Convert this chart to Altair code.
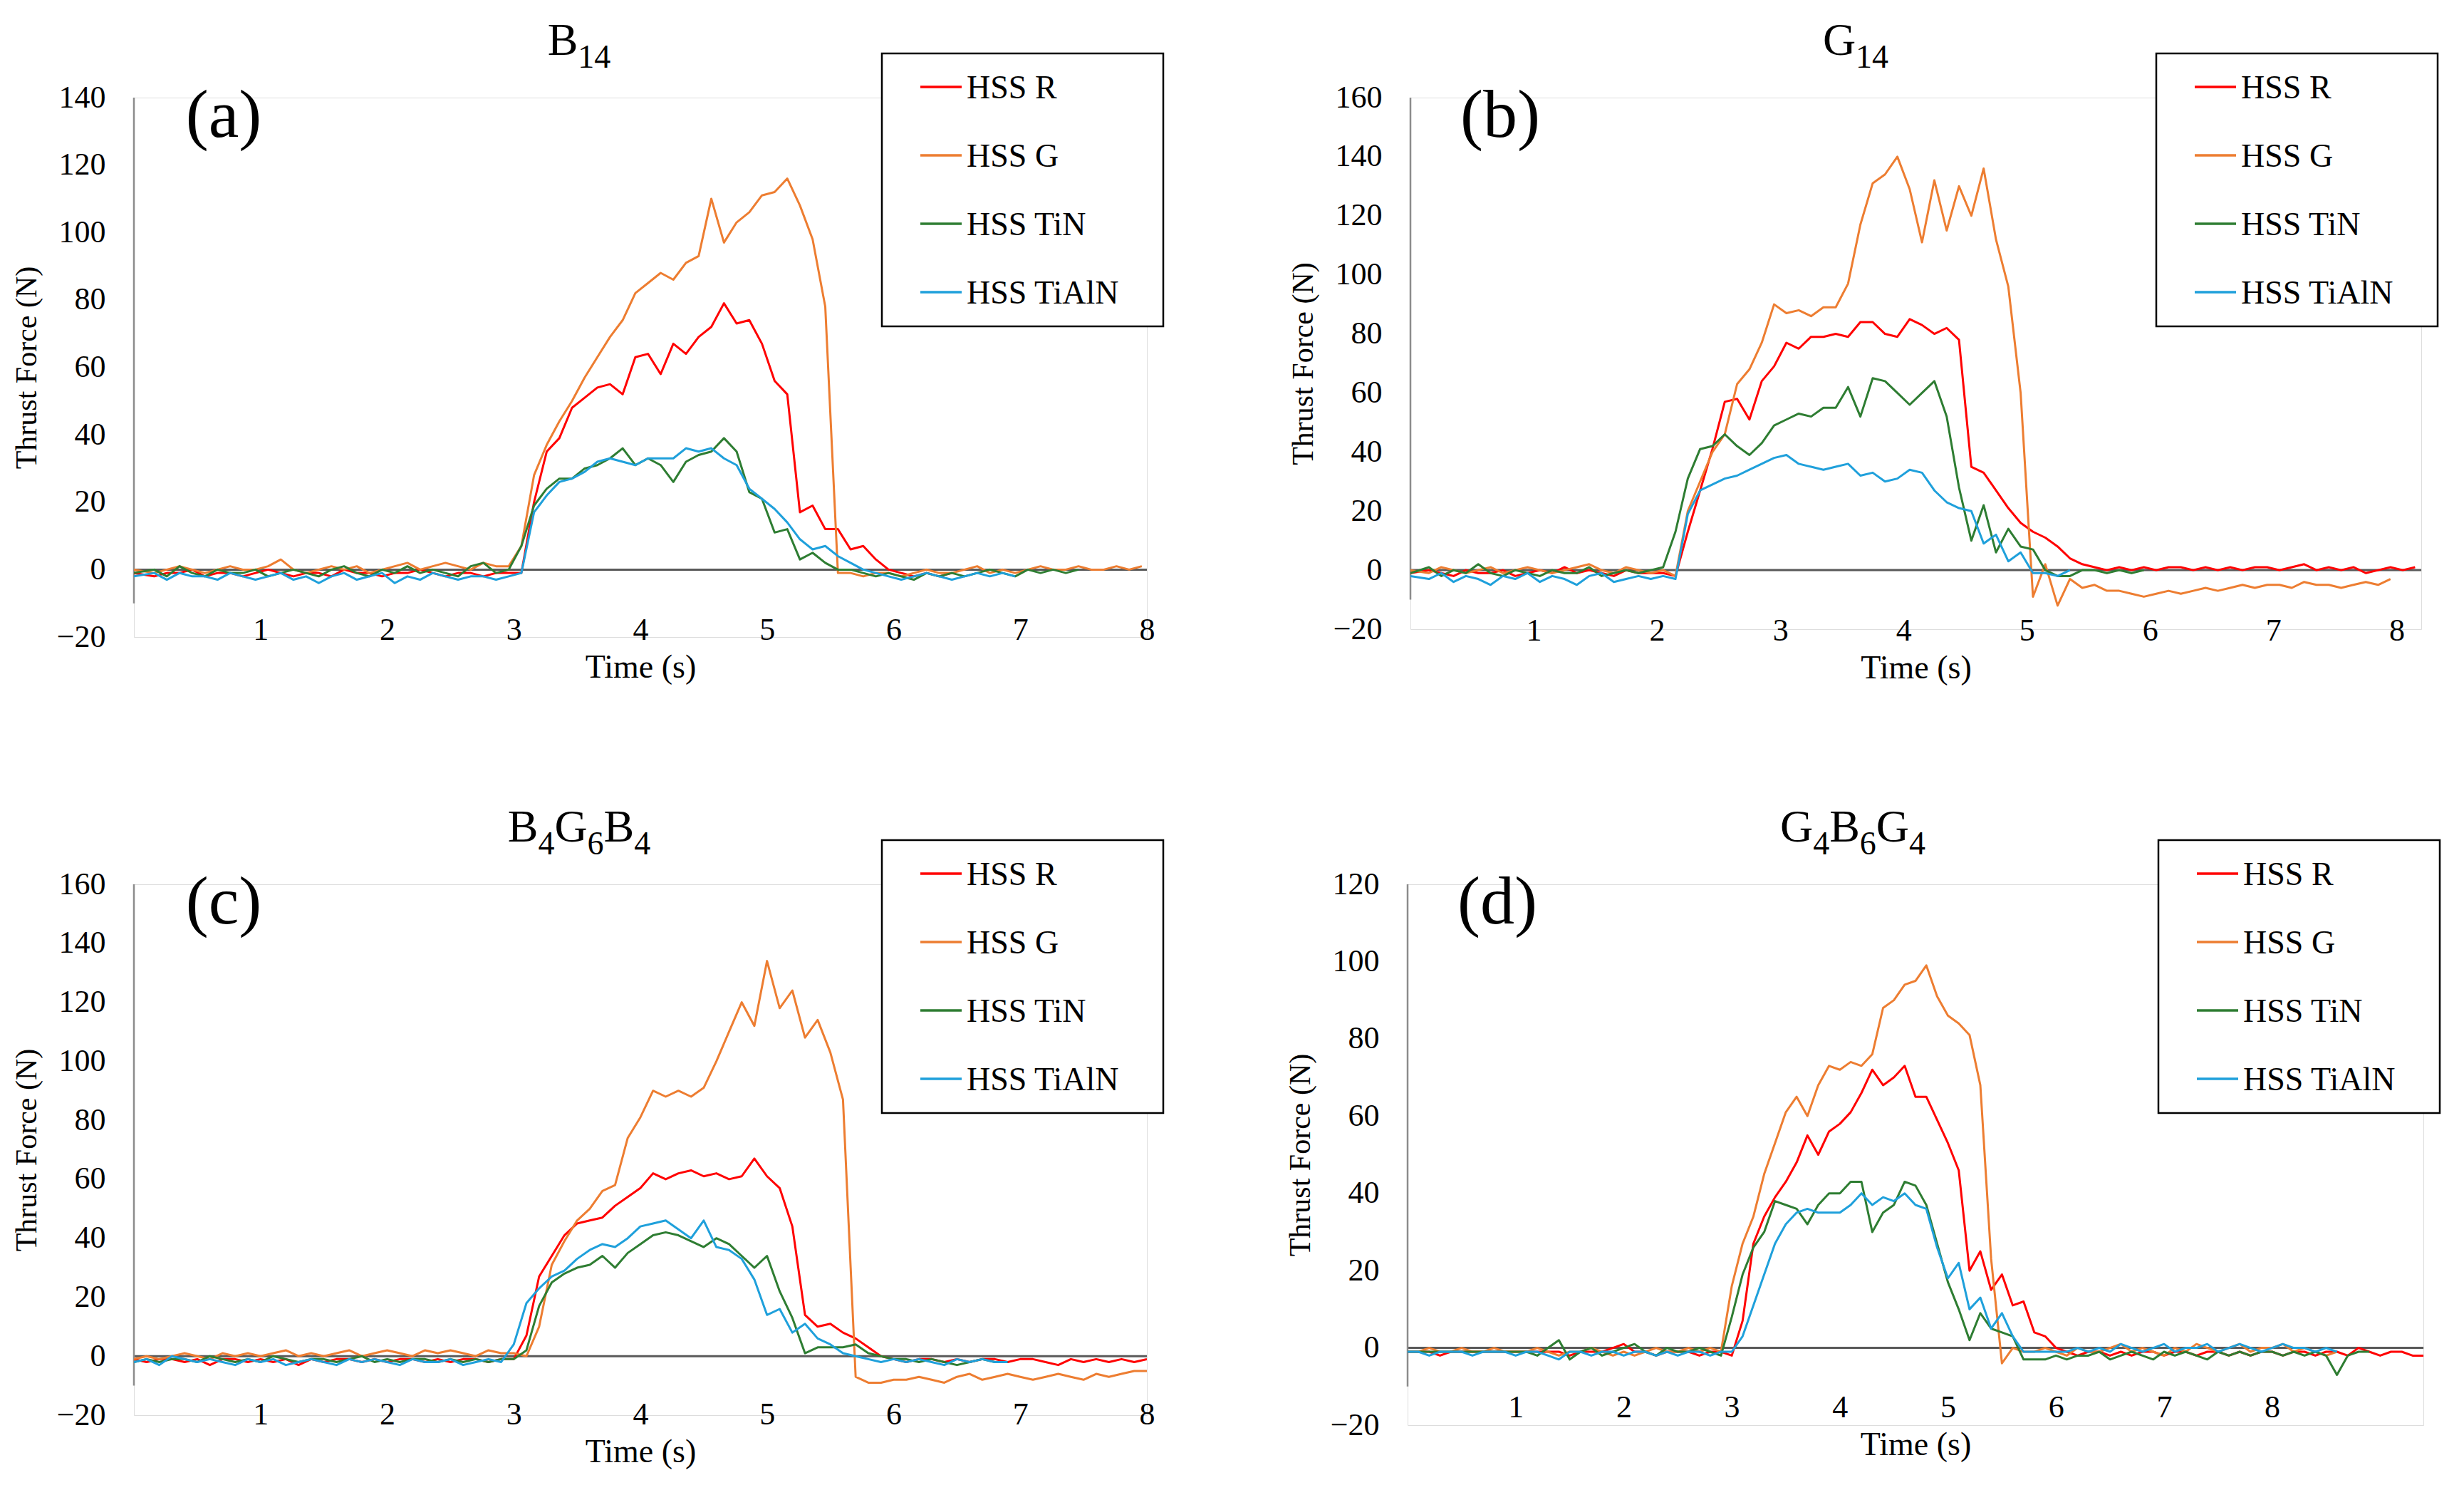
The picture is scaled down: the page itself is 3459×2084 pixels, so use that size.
import altair as alt
import pandas as pd

FONT = "Liberation Serif"
SERIES = ["HSS R", "HSS G", "HSS TiN", "HSS TiAlN"]
COLORS = ["#FF0000", "#ED7D31", "#2E7D32", "#1FA0DB"]
X_TICKS = [1, 2, 3, 4, 5, 6, 7, 8]
STEP = 0.1
AXIS_LINE_LOW = -10

# ---------------- panel (a) B14 ----------------
A_T0 = 0.06
A_R = [-1, -2, -1, -1, 0, -2, -1, -1, -2, -1, 0, -1, -2, -1, -1, -2, 0, -1, -1, -2,
       -1, -1, 0, -1, -2, -1, -1, -2, -1, -1,
       -1, 20, 35, 39, 48, 51, 54, 55, 52, 63, 64, 58, 67, 64, 69, 72, 79, 73, 74, 67,
       56, 52, 17, 19, 12, 12, 6, 7, 3, 0, -1,
       -2, -1, -2, -1]
A_G = [0, -1, 0, 1, 0, -1, 0, 1, 0, 0, 1, 3, 0, -1, 0, 1, 0, 1, -1, 0,
       1, 2, 0, 1, 2, 1, 0, 2, 1, 1,
       7, 28, 37, 44, 50, 57, 63, 69, 74, 82, 85, 88, 86, 91, 93, 110, 97, 103, 106, 111,
       112, 116, 108, 98, 78, -1,
       -1, -2, -1, -1, -2, -1, 0, -1, -1, 0, 1, -1, 0, -1, 0, 1, 0, 0, 1, 0, 0, 1, 0, 1]
A_TIN = [-1, 0, -2, 1, -1, -2, 0, -1, -1, 0, -2, -1, 0, -1, -2, 0, 1, -1, -2, 0,
         -1, 1, -1, 0, -1, -2, 1, 2, -1, 0,
         7, 19, 24, 27, 27, 30, 31, 33, 36, 31, 33, 31, 26, 32, 34, 35, 39, 35, 23, 21,
         11, 12, 3, 5, 2, 0, 0,
         -1, -2, -1, -2, -3, -1, -2, -1, -2, -1, 0, -1, -2, 0, -1, 0, -1, 0]
A_TIALN = [-2, -1, -3, -1, -2, -2, -3, -1, -2, -3, -2, -1, -3, -2, -4, -2, -1, -3, -2, -1,
           -4, -2, -3, -1, -2, -3, -2, -2, -3, -2,
           -1, 17, 22, 26, 27, 29, 32, 33, 32, 31, 33, 33, 33, 36, 35, 36, 33, 31, 24, 21,
           18, 14, 9, 6, 7, 4, 2, 0,
           -1, -2, -3, -2, -1, -2, -3, -2, -1, -2, -1, -2]

# ---------------- panel (b) G14 ----------------
B_T0 = 0.05
B_R = [-1, 0, -1, -2, 0, -1, -1, 0, -2, -1, 0, -1, 1, -1, 0, -1, -2, 0, -1, -1, -1,
       -2, 13, 27, 41, 57, 58, 51, 64, 69, 77, 75, 79, 79, 80, 79, 84, 84, 80, 79, 85,
       83, 80, 82, 78, 35, 33, 27, 21, 16, 13, 11, 8, 4, 2, 1,
       0, 1, 0, 1, 0, 1, 1, 0, 1, 0, 1, 0, 1, 1, 0, 1, 2, 0, 1, 0, 1, -1, 0, 1, 0, 1]
B_G = [0, -1, 1, 0, -1, 0, 1, -1, 0, 1, 0, -1, 0, 1, 2, 0, -1, 1, 0, -1, 0,
       -2, 20, 30, 40, 46, 63, 68, 77, 90, 87, 88, 86, 89, 89, 97,
       117, 131, 134, 140, 129, 111, 132, 115, 130, 120, 136, 112, 96, 60, -9,
       2, -12, -3, -6, -5, -7, -7, -8, -9, -8, -7, -8, -7, -6, -7,
       -6, -5, -6, -5, -5, -6, -4, -5, -5, -6, -5, -4, -5, -3]
B_TIN = [-1, 1, -2, 0, -1, 2, -1, -2, 0, -1, -2, 0, -1, -1, 1, -2, -1, 0, -1, 0, 1,
         13, 31, 41, 42, 46, 42, 39, 43, 49, 51, 53, 52, 55, 55, 62,
         52, 65, 64, 60, 56, 60, 64, 52, 28, 10, 22, 6, 14, 8, 7,
         0, -2, -2, 0, 0, -1, 0, -1, 0]
B_TIALN = [-2, -3, -1, -4, -2, -3, -5, -2, -3, -1, -4, -2, -3, -5, -2, -1, -4, -3, -2, -3, -2,
           -3, 19, 27, 29, 31, 32, 34, 36, 38, 39, 36, 35, 34, 35, 36,
           32, 33, 30, 31, 34, 33, 27, 23, 21, 20, 9, 12, 3, 6, -1,
           -1, -2, 0]

# ---------------- panel (c) B4G6B4 ----------------
C_T0 = 0.0
C_R = [-1, -2, -1, -1, -2, -1, -3, -1, -1, -2, -1, -2, -1, -3, -1, -2, -1, -1, -2, -1,
       -2, -1, -1, -2, -1, -2, -1, -1, -2, -1,
       -1, 7, 27, 34, 41, 45, 46, 47, 51, 54, 57, 62, 60, 62, 63, 61, 62, 60, 61, 67,
       61, 57, 44, 14, 10, 11, 8, 6, 3, 0, -1,
       -2, -1, -1, -2, -1, -2, -1, -1, -2, -1, -1, -2, -3, -1, -2, -1, -2, -1, -2, -1]
C_G = [-1, 0, -1, 0, 1, 0, -1, 1, 0, 1, 0, 1, 2, 0, 1, 0, 1, 2, 0, 1,
       2, 1, 0, 2, 1, 2, 1, 0, 2, 1,
       1, 0, 10, 31, 39, 46, 50, 56, 58, 74, 81, 90, 88, 90, 88, 91, 100, 110, 120, 112,
       134, 118, 124, 108, 114, 103, 87, -7, -9, -9, -8, -8, -7, -8, -9,
       -7, -6, -8, -7, -6, -7, -8, -7, -6, -7, -8, -6, -7, -6, -5, -5]
C_TIN = [-2, -1, -2, -1, -1, -2, 0, -1, -2, -1, -2, 0, -1, -2, -1, -1, -2, -1, 0, -2,
         -1, -2, -1, -1, -2, -1, -2, -1, -2, -1,
         -1, 2, 17, 25, 28, 30, 31, 34, 30, 35, 38, 41, 42, 41, 39, 37, 40, 38, 34, 30,
         34, 22, 13, 1, 3, 3, 3, 4, 1, 0, -1,
         -1, -2, -1, -2, -3, -2, -1, -2, -2]
C_TIALN = [-2, -1, -3, 0, -1, -2, -1, -2, -3, -1, -2, -1, -3, -2, -1, -2, -3, -1, -2, -1,
           -2, -3, -1, -2, -2, -1, -3, -2, -1, -2,
           4, 18, 23, 27, 29, 33, 36, 38, 37, 40, 44, 45, 46, 43, 40, 46, 37, 36, 33, 26,
           14, 16, 8, 11, 6, 4, 1, 0, -1,
           -2, -1, -2, -1, -2, -3, -1, -2, -1, -2, -2]

# ---------------- panel (d) G4B6G4 ----------------
D_T0 = 0.0
D_R = [-1, -1, -1, -2, -1, -1, -1, -1, -1, -1, -1, -1, -1, -1, -1, -2, -1, -1, -1, 0,
       1, -1, -1, -2, -1, -1, -1, -2, -1, -1,
       -2, 7, 27, 34, 39, 43, 48, 55, 50, 56, 58, 61, 66, 72, 68, 70, 73, 65, 65, 59,
       53, 46, 20, 25, 15, 19, 11, 12, 4, 3, 0,
       -1, -2, -1, -1, -2, -1, -2, -1, -1, -2, -1, -1, -2, -1, -1, -2, -1, -2, -1, -1,
       -2, -1, -1, -2, -1, -1, -2, 0, -1, -2, -1, -1, -2, -2]
D_G = [-1, -1, 0, -1, -1, 0, -1, -1, 0, -1, -1, -1, 0, -1, -2, -1, -1, 0, -1, -2,
       -1, -2, -1, 0, -1, -1, 0, -1, 0, -1,
       16, 27, 34, 45, 53, 61, 65, 60, 68, 73, 72, 74, 73, 76, 88, 90, 94, 95, 99, 91,
       86, 84, 81, 68, 23, -4, 0, -1,
       -1, 0, -1, -2, 0, -1, -1, 0, 1, -1, 0, -1, -2, 0, -1, 1, 0, -1, 0, 1,
       -1, 0, 0, 1, -1, 0, -1, -2, -1]
D_TIN = [-1, -1, -1, -1, -1, -1, -1, -1, -1, -1, -1, -1, -2, 0, 2, -3, -1, 0, -2, -1,
         0, 1, -1, -2, 0, -1, -1, 0, -1, -2,
         8, 19, 26, 30, 38, 37, 36, 32, 37, 40, 40, 43, 43, 30, 35, 37, 43, 42, 37, 27,
         17, 10, 2, 9, 5, 4, 3, -3, -3, -3, -2,
         -3, -2, -2, -1, -3, -2, -1, -2, -3, -1, -2, -1, -2, -3, -1, -2, -1, -2, -1, -1,
         -2, -1, -2, -1, -2, -7, -2, -1, -1]
D_TIALN = [-1, -1, -2, -1, -1, -1, -2, -1, -1, -1, -2, -1, -1, -2, -3, -1, -1, -2, -1, -1,
           -2, -1, -1, -2, -1, -2, -1, -1, -2, -1,
           -1, 3, 11, 19, 27, 32, 35, 36, 35, 35, 35, 37, 40, 37, 39, 38, 40, 37, 36, 26,
           18, 22, 10, 13, 5, 9, 3, -1, -1, -1, -1,
           -1, 0, -1, 0, -1, 1, 0, -1, 0, 1, -1, 0, 0, 1, -1, 0, 1, 0, -1, 0,
           1, 0, 0, -1, 0, -1]

# titles: (text, is_subscript)
TITLE_A = [("B", 0), ("14", 1)]
TITLE_B = [("G", 0), ("14", 1)]
TITLE_C = [("B", 0), ("4", 1), ("G", 0), ("6", 1), ("B", 0), ("4", 1)]
TITLE_D = [("G", 0), ("4", 1), ("B", 0), ("6", 1), ("G", 0), ("4", 1)]

PANELS = [
    dict(tag="(a)", title=TITLE_A, ymax=140, xmax=8.0, t0=A_T0, w=1422, h=757, xoff=-32,
         values=[A_R, A_G, A_TIN, A_TIALN]),
    dict(tag="(b)", title=TITLE_B, ymax=160, xmax=8.2, t0=B_T0, w=1419, h=746, xoff=-20,
         values=[B_R, B_G, B_TIN, B_TIALN]),
    dict(tag="(c)", title=TITLE_C, ymax=160, xmax=8.0, t0=C_T0, w=1422, h=745, xoff=-23,
         values=[C_R, C_G, C_TIN, C_TIALN]),
    dict(tag="(d)", title=TITLE_D, ymax=120, xmax=9.4, t0=D_T0, w=1426, h=759, xoff=-47,
         values=[D_R, D_G, D_TIN, D_TIALN]),
]

ONE = pd.DataFrame({"k": [0]})
MAIN_FS, SUB_FS = 64, 46
ADV = {"B": 0.667, "G": 0.722}


def title_layers(segs, cx, base_y):
    widths = []
    for txt, sub in segs:
        fs = SUB_FS if sub else MAIN_FS
        widths.append(sum(ADV.get(ch, 0.5) for ch in txt) * fs)
    x = cx - sum(widths) / 2
    out = []
    for (txt, sub), w in zip(segs, widths):
        out.append(alt.Chart(ONE).mark_text(font=FONT, fontSize=SUB_FS if sub else MAIN_FS,
                                             align="left", baseline="alphabetic",
                                             color="black").encode(
            x=alt.value(x), y=alt.value(base_y + (18 if sub else 0)), text=alt.value(txt)))
        x += w
    return out


def panel_chart(p):
    rows = []
    for name, vals in zip(SERIES, p["values"]):
        for i, v in enumerate(vals):
            t = 0.0 if i == 0 else round(p["t0"] + STEP * i, 3)
            rows.append({"t": t, "force": v, "series": name, "k": i})
    df = pd.DataFrame(rows)
    W = p["w"]

    xs = alt.Scale(domain=[0, p["xmax"]], nice=False, zero=False)
    ys = alt.Scale(domain=[-20, p["ymax"]], nice=False, zero=False)
    xaxis = alt.Axis(values=X_TICKS, format="d", title="Time (s)", grid=False, domain=False,
                     ticks=False, labelFont=FONT, labelFontSize=44, labelColor="black",
                     labelPadding=0, offset=p["xoff"], titleFont=FONT, titleFontSize=46,
                     titleFontWeight="normal", titleColor="black", titlePadding=8,
                     labelFlush=False, labelOverlap=False)
    yaxis = alt.Axis(values=list(range(-20, p["ymax"] + 1, 20)), format="d",
                     title="Thrust Force (N)", grid=False, domain=False, ticks=False,
                     labelFont=FONT, labelFontSize=44, labelColor="black", labelPadding=40,
                     titleFont=FONT, titleFontSize=42, titleFontWeight="normal",
                     titleColor="black", titlePadding=20, labelFlush=False, labelOverlap=False)

    zero = alt.Chart(ONE).mark_rule(color="#595959", strokeWidth=3).encode(
        x=alt.datum(0), x2=alt.datum(p["xmax"]), y=alt.datum(0))
    yline = alt.Chart(ONE).mark_rule(color="#8C8C8C", strokeWidth=2.5).encode(
        x=alt.datum(0), y=alt.datum(p["ymax"]), y2=alt.datum(AXIS_LINE_LOW))
    lines = alt.Chart(df).mark_line(strokeWidth=3, strokeJoin="round", clip=True).encode(
        x=alt.X("t:Q", scale=xs, axis=xaxis),
        y=alt.Y("force:Q", scale=ys, axis=yaxis),
        color=alt.Color("series:N", scale=alt.Scale(domain=SERIES, range=COLORS), legend=None),
        order=alt.Order("k:Q"),
    )

    L = W - 372
    box = alt.Chart(ONE).mark_rect(fill="white", stroke="black", strokeWidth=2.5).encode(
        x=alt.value(L), x2=alt.value(L + 395), y=alt.value(-62), y2=alt.value(321))
    layers = [zero, yline, lines, box]
    for i, (name, col) in enumerate(zip(SERIES, COLORS)):
        yy = -15 + 96 * i
        layers.append(alt.Chart(ONE).mark_rule(strokeWidth=3.5).encode(
            x=alt.value(L + 54), x2=alt.value(L + 112), y=alt.value(yy), color=alt.value(col)))
        layers.append(alt.Chart(ONE).mark_text(font=FONT, fontSize=46, align="left",
                                                baseline="middle", color="black").encode(
            x=alt.value(L + 119), y=alt.value(yy + 2), text=alt.value(name)))
    layers += title_layers(p["title"], 625, -60)
    layers.append(alt.Chart(ONE).mark_text(font=FONT, fontSize=96, align="center",
                                            baseline="alphabetic", color="black").encode(
        x=alt.value(126), y=alt.value(55), text=alt.value(p["tag"])))

    return alt.layer(*layers).properties(width=W, height=p["h"])


pa, pb, pc, pd_ = [panel_chart(p) for p in PANELS]
row1 = alt.hconcat(pa, pb, spacing=172)
row2 = alt.hconcat(pc, pd_, spacing=168)
chart = alt.vconcat(row1, row2, spacing=168).properties(
    padding={"left": 7, "top": 17, "right": 5, "bottom": 5},
    background="white",
).configure_view(stroke="transparent").configure(font=FONT)

chart.save("out.html", embed_options={"renderer": "svg", "actions": False})
